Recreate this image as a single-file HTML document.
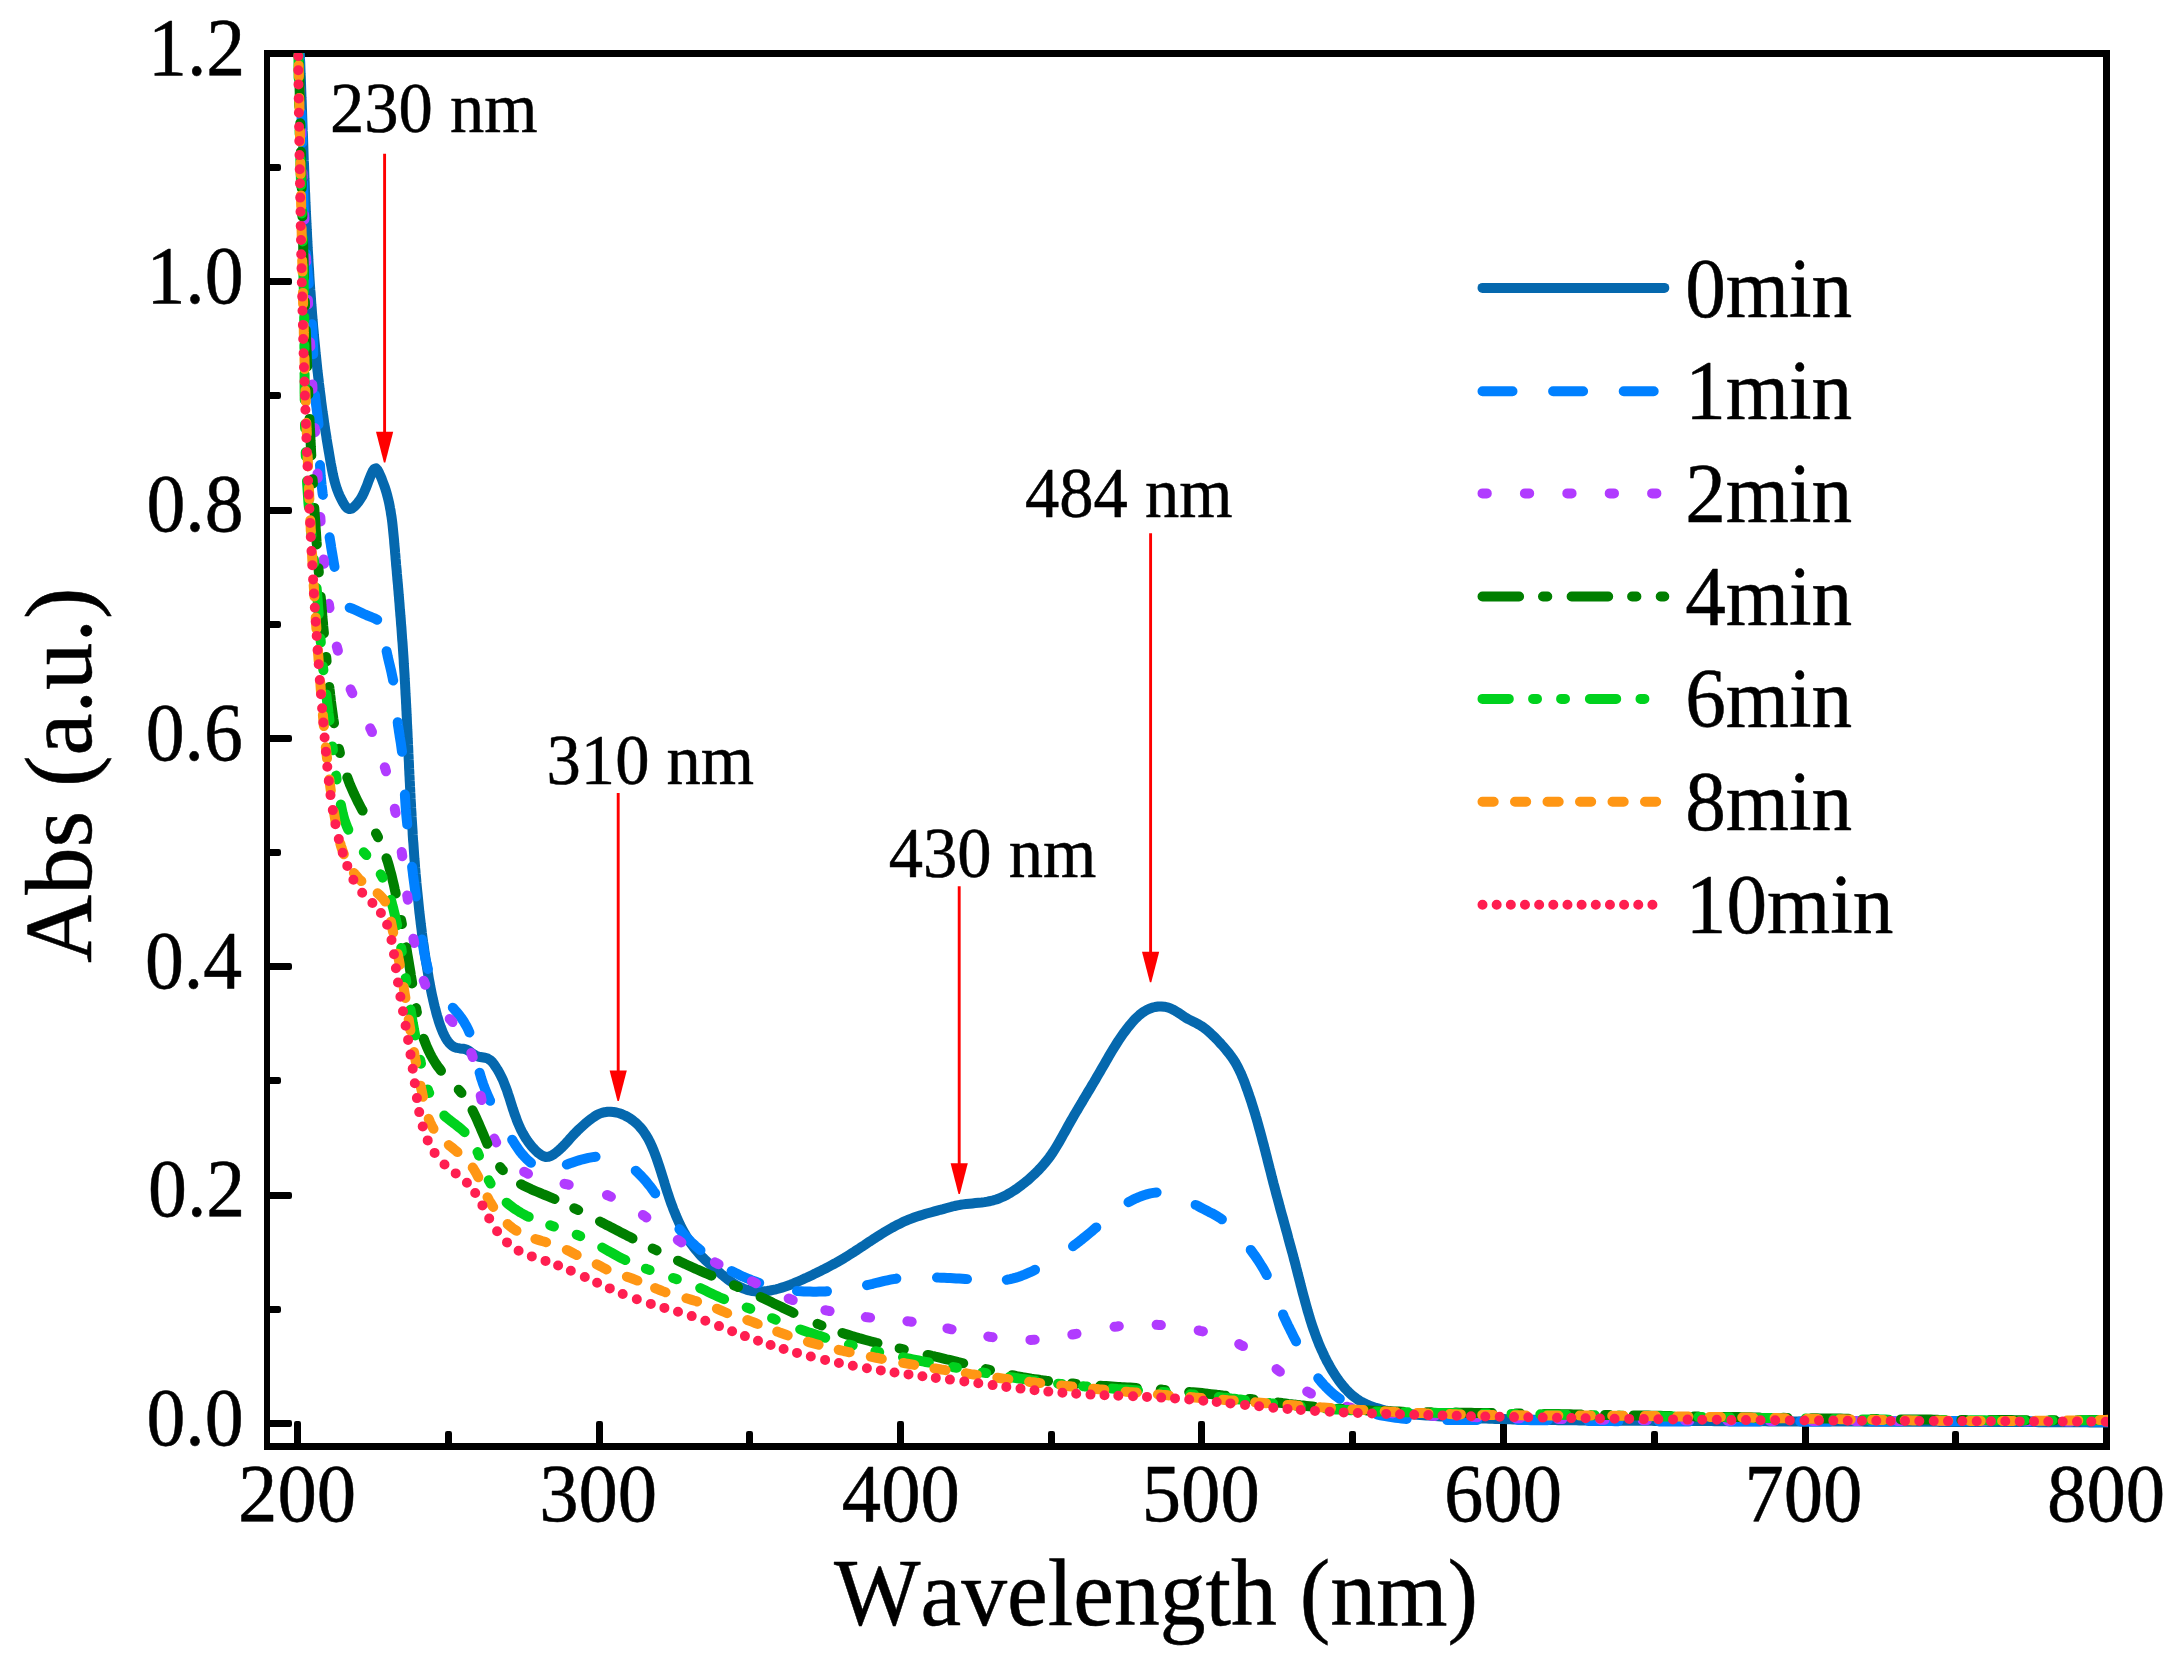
<!DOCTYPE html>
<html lang="en"><head><meta charset="utf-8"><title>UV-Vis absorbance spectra</title>
<style>html,body{margin:0;padding:0;background:#fff;width:2183px;height:1668px;overflow:hidden}svg{display:block}text{font-family:"Liberation Serif",serif;font-kerning:none;fill:#000;stroke:#000;stroke-width:0.5px;stroke-linejoin:round}</style></head><body>
<svg width="2183" height="1668" viewBox="0 0 2183 1668" shape-rendering="geometricPrecision">
<rect width="2183" height="1668" fill="#fff"/>
<defs><clipPath id="plot"><rect x="267.0" y="53.0" width="1841.0" height="1393.5"/></clipPath></defs>
<g fill="#000" stroke="none">
<rect x="264" y="50" width="6" height="1400"/>
<rect x="2103" y="50" width="7" height="1400"/>
<rect x="264" y="50" width="1846" height="7"/>
<rect x="264" y="1443" width="1846" height="7"/>
<rect x="294" y="1421" width="7" height="26" rx="2.2"/>
<rect x="445" y="1431" width="7" height="16" rx="2.2"/>
<rect x="596" y="1421" width="7" height="26" rx="2.2"/>
<rect x="746" y="1431" width="7" height="16" rx="2.2"/>
<rect x="897" y="1421" width="7" height="26" rx="2.2"/>
<rect x="1048" y="1431" width="7" height="16" rx="2.2"/>
<rect x="1198" y="1421" width="7" height="26" rx="2.2"/>
<rect x="1349" y="1431" width="7" height="16" rx="2.2"/>
<rect x="1500" y="1421" width="7" height="26" rx="2.2"/>
<rect x="1651" y="1431" width="7" height="16" rx="2.2"/>
<rect x="1802" y="1421" width="7" height="26" rx="2.2"/>
<rect x="1952" y="1431" width="7" height="16" rx="2.2"/>
<rect x="266" y="1420" width="26" height="7" rx="2.2"/>
<rect x="266" y="1306" width="15" height="7" rx="2.2"/>
<rect x="266" y="1192" width="26" height="7" rx="2.2"/>
<rect x="266" y="1077" width="15" height="7" rx="2.2"/>
<rect x="266" y="963" width="26" height="7" rx="2.2"/>
<rect x="266" y="849" width="15" height="7" rx="2.2"/>
<rect x="266" y="735" width="26" height="7" rx="2.2"/>
<rect x="266" y="621" width="15" height="7" rx="2.2"/>
<rect x="266" y="507" width="26" height="7" rx="2.2"/>
<rect x="266" y="392" width="15" height="7" rx="2.2"/>
<rect x="266" y="278" width="26" height="7" rx="2.2"/>
<rect x="266" y="164" width="15" height="7" rx="2.2"/>
</g>
<g clip-path="url(#plot)" fill="none" stroke-linecap="round" stroke-linejoin="round" stroke-width="10">
<path id="c0min" d="M298.3,20.1 298.4,23.0 298.6,26.0 298.7,29.0 298.9,32.0 299.0,35.0 299.1,38.0 299.3,41.0 299.4,44.0 299.5,47.0 299.7,50.0 299.8,53.0 299.9,56.0 300.0,59.0 300.2,62.0 300.3,65.0 300.4,68.0 300.5,71.0 300.6,73.9 300.8,76.9 300.9,79.9 301.0,82.9 301.1,85.9 301.2,88.9 301.3,91.9 301.4,94.9 301.5,97.9 301.7,100.9 301.8,103.9 301.9,107.0 302.0,110.0 302.1,113.0 302.2,116.0 302.3,119.0 302.4,122.0 302.5,125.0 302.6,128.0 302.7,131.0 302.9,134.0 303.0,137.0 303.1,140.0 303.2,143.0 303.3,146.0 303.4,149.0 303.5,152.0 303.6,155.0 303.7,158.0 303.8,161.0 304.0,164.0 304.1,167.0 304.2,170.0 304.3,173.0 304.4,176.0 304.5,179.1 304.7,182.1 304.8,185.1 304.9,188.1 305.0,191.1 305.2,194.1 305.3,197.1 305.4,200.1 305.5,203.1 305.7,206.1 305.8,209.1 305.9,212.1 306.1,215.1 306.2,218.1 306.4,221.1 306.5,224.1 306.7,227.1 306.8,230.1 307.0,233.1 307.1,236.1 307.3,239.1 307.4,242.1 307.6,245.1 307.7,248.2 307.9,251.2 308.1,254.2 308.3,257.2 308.4,260.2 308.6,263.2 308.8,266.2 309.0,269.2 309.2,272.2 309.3,275.2 309.5,278.2 309.7,281.2 309.9,284.2 310.1,287.2 310.3,290.2 310.6,293.1 310.8,296.1 311.0,299.1 311.2,302.1 311.4,305.1 311.7,308.1 311.9,311.1 312.1,314.1 312.4,317.1 312.6,320.1 312.9,323.1 313.1,326.1 313.4,329.1 313.7,332.1 313.9,335.1 314.2,338.0 314.5,341.0 314.8,344.0 315.1,347.0 315.4,350.0 315.6,353.0 316.0,356.0 316.3,359.0 316.6,361.9 316.9,364.9 317.2,367.9 317.5,370.9 317.9,373.9 318.2,376.9 318.6,379.8 318.9,382.8 319.3,385.8 319.6,388.8 320.0,391.7 320.4,394.7 320.8,397.7 321.1,400.7 321.5,403.6 321.9,406.6 322.3,409.6 322.7,412.6 323.2,415.5 323.6,418.5 324.0,421.5 324.4,424.4 324.9,427.4 325.3,430.4 325.8,433.3 326.3,436.3 326.7,439.2 327.2,442.2 327.7,445.2 328.2,448.1 328.7,451.1 329.2,454.0 329.7,457.0 330.2,460.0 330.7,462.9 331.3,465.9 331.8,468.8 332.4,471.8 333.0,474.7 333.7,477.6 334.4,480.6 335.2,483.5 336.1,486.4 337.0,489.2 338.1,492.1 339.3,495.0 340.6,497.8 342.0,500.6 343.6,503.4 345.3,506.1 347.2,508.2 349.4,509.1 351.7,508.6 354.2,506.8 356.6,504.3 358.7,501.6 360.5,499.0 362.1,496.4 363.4,493.8 364.6,491.2 365.7,488.5 366.8,485.9 367.8,483.1 368.8,480.3 370.0,477.3 371.3,474.1 372.8,471.0 374.4,468.8 376.0,468.4 377.6,470.0 379.1,472.9 380.5,476.1 381.8,479.1 382.9,482.1 384.0,485.0 385.0,487.8 385.9,490.6 386.7,493.4 387.5,496.3 388.2,499.2 388.9,502.1 389.5,505.0 390.0,507.9 390.6,510.8 391.0,513.8 391.5,516.7 391.9,519.7 392.3,522.7 392.6,525.6 392.9,528.6 393.2,531.6 393.5,534.6 393.8,537.6 394.1,540.6 394.3,543.6 394.6,546.7 394.9,549.7 395.1,552.7 395.4,555.7 395.6,558.7 395.9,561.7 396.1,564.7 396.4,567.7 396.7,570.7 396.9,573.7 397.2,576.7 397.4,579.6 397.7,582.6 398.0,585.6 398.2,588.6 398.5,591.6 398.7,594.6 399.0,597.6 399.2,600.6 399.5,603.6 399.7,606.6 399.9,609.6 400.2,612.6 400.4,615.6 400.7,618.6 400.9,621.5 401.1,624.5 401.4,627.5 401.6,630.5 401.8,633.5 402.0,636.5 402.2,639.5 402.5,642.5 402.7,645.5 402.9,648.5 403.1,651.5 403.3,654.5 403.5,657.5 403.7,660.5 403.8,663.4 404.0,666.4 404.2,669.4 404.4,672.4 404.6,675.4 404.7,678.4 404.9,681.4 405.1,684.4 405.2,687.4 405.4,690.4 405.5,693.4 405.7,696.4 405.9,699.4 406.0,702.4 406.2,705.4 406.3,708.4 406.5,711.4 406.6,714.4 406.8,717.4 406.9,720.4 407.0,723.4 407.2,726.4 407.3,729.4 407.5,732.4 407.6,735.4 407.7,738.4 407.9,741.5 408.0,744.5 408.2,747.5 408.3,750.5 408.4,753.5 408.6,756.5 408.7,759.5 408.9,762.5 409.0,765.5 409.1,768.5 409.3,771.5 409.4,774.5 409.6,777.5 409.7,780.5 409.9,783.5 410.0,786.5 410.2,789.5 410.3,792.5 410.5,795.5 410.6,798.5 410.8,801.5 411.0,804.5 411.1,807.5 411.3,810.5 411.5,813.5 411.6,816.5 411.8,819.5 412.0,822.5 412.2,825.5 412.4,828.5 412.6,831.5 412.7,834.5 412.9,837.5 413.1,840.5 413.4,843.5 413.6,846.5 413.8,849.5 414.0,852.5 414.2,855.5 414.4,858.5 414.7,861.4 414.9,864.4 415.1,867.4 415.4,870.4 415.6,873.4 415.9,876.4 416.2,879.4 416.4,882.4 416.7,885.4 417.0,888.4 417.3,891.4 417.6,894.3 417.9,897.3 418.2,900.3 418.5,903.3 418.8,906.3 419.1,909.3 419.4,912.3 419.8,915.2 420.1,918.2 420.5,921.2 420.8,924.2 421.2,927.2 421.6,930.1 421.9,933.1 422.3,936.1 422.7,939.1 423.1,942.0 423.6,945.0 424.0,948.0 424.4,951.0 424.8,953.9 425.3,956.9 425.7,959.9 426.2,962.8 426.7,965.8 427.2,968.8 427.7,971.8 428.2,974.7 428.7,977.7 429.2,980.6 429.8,983.6 430.3,986.5 430.9,989.5 431.5,992.4 432.1,995.4 432.8,998.3 433.4,1001.2 434.1,1004.1 434.8,1007.0 435.6,1009.9 436.3,1012.8 437.1,1015.7 438.0,1018.6 438.8,1021.4 439.8,1024.3 440.8,1027.1 441.9,1029.9 443.1,1032.8 444.4,1035.5 445.9,1038.3 447.6,1041.0 449.5,1043.4 451.7,1045.5 454.1,1047.0 456.9,1047.9 459.9,1048.4 462.9,1048.7 465.9,1049.4 468.5,1050.6 470.9,1052.3 473.3,1054.2 475.9,1055.7 478.8,1056.7 481.9,1057.2 485.0,1057.7 487.8,1058.6 490.3,1060.2 492.4,1062.2 494.2,1064.6 495.9,1067.1 497.5,1069.6 499.0,1072.2 500.4,1074.8 501.7,1077.5 503.0,1080.2 504.1,1083.0 505.2,1085.8 506.3,1088.6 507.3,1091.4 508.2,1094.3 509.2,1097.2 510.1,1100.0 511.0,1102.9 511.9,1105.8 512.8,1108.7 513.8,1111.5 514.7,1114.4 515.8,1117.2 516.8,1120.1 517.9,1122.8 519.1,1125.6 520.3,1128.3 521.6,1131.0 523.0,1133.6 524.5,1136.2 526.1,1138.8 527.8,1141.3 529.6,1143.7 531.5,1146.1 533.5,1148.3 535.7,1150.6 538.0,1152.7 540.5,1154.6 543.1,1156.1 545.7,1156.9 548.5,1156.7 551.3,1155.7 554.0,1154.1 556.6,1152.1 559.1,1150.0 561.4,1147.9 563.5,1145.8 565.6,1143.6 567.6,1141.4 569.5,1139.2 571.5,1137.0 573.4,1134.9 575.5,1132.8 577.5,1130.7 579.7,1128.6 581.9,1126.6 584.1,1124.6 586.4,1122.6 588.8,1120.7 591.3,1118.8 593.8,1117.0 596.4,1115.3 599.1,1113.9 601.9,1112.9 604.7,1112.2 607.6,1111.8 610.5,1111.7 613.4,1112.0 616.4,1112.5 619.3,1113.3 622.1,1114.3 624.9,1115.5 627.7,1117.0 630.3,1118.6 632.8,1120.4 635.2,1122.3 637.5,1124.4 639.6,1126.6 641.6,1128.9 643.4,1131.2 645.1,1133.7 646.7,1136.2 648.2,1138.8 649.6,1141.5 650.9,1144.2 652.1,1146.9 653.3,1149.7 654.4,1152.5 655.5,1155.3 656.5,1158.2 657.5,1161.0 658.4,1163.8 659.4,1166.7 660.3,1169.5 661.2,1172.3 662.1,1175.2 663.0,1178.0 663.9,1180.9 664.7,1183.7 665.6,1186.6 666.5,1189.5 667.4,1192.3 668.4,1195.2 669.3,1198.0 670.3,1200.9 671.3,1203.7 672.4,1206.6 673.4,1209.4 674.6,1212.2 675.7,1215.0 676.9,1217.8 678.1,1220.5 679.4,1223.3 680.7,1226.0 682.1,1228.7 683.5,1231.3 684.9,1233.9 686.5,1236.5 688.0,1239.1 689.7,1241.6 691.4,1244.0 693.1,1246.4 695.0,1248.8 696.9,1251.1 698.8,1253.4 700.8,1255.6 702.9,1257.7 705.1,1259.8 707.3,1261.9 709.5,1263.9 711.8,1265.9 714.1,1267.9 716.4,1269.9 718.6,1271.8 720.9,1273.8 723.2,1275.7 725.5,1277.6 727.9,1279.4 730.3,1281.2 732.8,1282.9 735.4,1284.5 738.0,1286.0 740.8,1287.4 743.6,1288.6 746.4,1289.6 749.3,1290.4 752.3,1291.0 755.2,1291.4 758.2,1291.6 761.2,1291.5 764.2,1291.3 767.2,1291.0 770.2,1290.5 773.2,1289.9 776.1,1289.3 779.0,1288.5 781.9,1287.6 784.7,1286.7 787.6,1285.7 790.4,1284.7 793.2,1283.6 796.0,1282.4 798.7,1281.2 801.5,1280.0 804.2,1278.7 807.0,1277.5 809.7,1276.2 812.4,1274.9 815.1,1273.6 817.8,1272.2 820.5,1270.9 823.2,1269.6 825.9,1268.2 828.5,1266.8 831.2,1265.4 833.8,1264.0 836.4,1262.6 839.0,1261.1 841.6,1259.6 844.2,1258.1 846.8,1256.5 849.3,1254.9 851.8,1253.3 854.4,1251.7 856.9,1250.0 859.4,1248.4 861.9,1246.7 864.4,1245.1 866.9,1243.4 869.4,1241.7 871.9,1240.1 874.4,1238.4 877.0,1236.8 879.5,1235.2 882.0,1233.6 884.6,1232.0 887.2,1230.5 889.8,1229.0 892.4,1227.5 895.0,1226.1 897.6,1224.7 900.3,1223.4 903.0,1222.1 905.8,1220.8 908.5,1219.7 911.3,1218.6 914.1,1217.5 917.0,1216.5 919.9,1215.6 922.8,1214.7 925.7,1213.8 928.6,1213.0 931.5,1212.2 934.4,1211.4 937.3,1210.6 940.2,1209.8 943.1,1209.1 946.0,1208.3 948.8,1207.5 951.7,1206.7 954.6,1206.0 957.4,1205.4 960.4,1204.8 963.3,1204.4 966.3,1204.0 969.4,1203.7 972.4,1203.4 975.4,1203.1 978.5,1202.8 981.5,1202.5 984.5,1202.1 987.5,1201.6 990.4,1201.0 993.3,1200.3 996.2,1199.5 999.0,1198.5 1001.7,1197.3 1004.4,1196.1 1007.1,1194.7 1009.7,1193.2 1012.2,1191.6 1014.8,1190.0 1017.3,1188.3 1019.7,1186.5 1022.1,1184.7 1024.5,1182.8 1026.9,1180.9 1029.2,1178.9 1031.4,1176.9 1033.6,1174.9 1035.8,1172.8 1037.9,1170.7 1040.0,1168.5 1042.0,1166.3 1044.0,1164.0 1045.9,1161.7 1047.8,1159.4 1049.6,1157.0 1051.3,1154.6 1053.0,1152.1 1054.6,1149.6 1056.2,1147.0 1057.7,1144.5 1059.2,1141.9 1060.7,1139.3 1062.2,1136.6 1063.6,1134.0 1065.1,1131.4 1066.6,1128.7 1068.0,1126.1 1069.5,1123.5 1071.0,1120.8 1072.5,1118.2 1074.0,1115.6 1075.5,1113.0 1077.1,1110.4 1078.6,1107.8 1080.1,1105.3 1081.7,1102.7 1083.2,1100.1 1084.7,1097.5 1086.3,1094.9 1087.8,1092.3 1089.4,1089.8 1090.9,1087.2 1092.4,1084.6 1094.0,1082.0 1095.5,1079.4 1097.0,1076.8 1098.5,1074.3 1100.0,1071.7 1101.5,1069.1 1103.0,1066.5 1104.5,1063.9 1106.0,1061.3 1107.5,1058.7 1109.0,1056.1 1110.5,1053.5 1112.0,1051.0 1113.6,1048.4 1115.2,1045.8 1116.8,1043.3 1118.4,1040.8 1120.1,1038.3 1121.8,1035.8 1123.5,1033.3 1125.3,1030.9 1127.1,1028.5 1129.0,1026.1 1131.0,1023.8 1133.0,1021.4 1135.0,1019.2 1137.2,1017.1 1139.4,1015.0 1141.7,1013.2 1144.2,1011.5 1146.7,1010.0 1149.4,1008.7 1152.2,1007.7 1155.1,1007.0 1158.2,1006.5 1161.3,1006.4 1164.3,1006.7 1167.3,1007.3 1170.1,1008.2 1172.8,1009.5 1175.4,1010.9 1178.0,1012.5 1180.5,1014.2 1183.0,1015.9 1185.6,1017.6 1188.2,1019.1 1190.8,1020.4 1193.5,1021.8 1196.2,1023.1 1198.8,1024.5 1201.3,1026.0 1203.8,1027.7 1206.2,1029.5 1208.5,1031.5 1210.7,1033.5 1212.9,1035.6 1215.1,1037.7 1217.2,1039.9 1219.3,1042.1 1221.3,1044.4 1223.4,1046.6 1225.3,1048.9 1227.2,1051.2 1229.1,1053.5 1230.9,1055.9 1232.6,1058.3 1234.2,1060.8 1235.8,1063.3 1237.2,1065.9 1238.6,1068.6 1239.9,1071.3 1241.2,1074.0 1242.3,1076.8 1243.5,1079.6 1244.6,1082.4 1245.6,1085.2 1246.6,1088.1 1247.7,1090.9 1248.6,1093.8 1249.6,1096.6 1250.6,1099.5 1251.5,1102.3 1252.4,1105.2 1253.3,1108.1 1254.2,1111.0 1255.1,1113.8 1255.9,1116.7 1256.8,1119.6 1257.6,1122.5 1258.4,1125.4 1259.2,1128.3 1260.0,1131.2 1260.8,1134.1 1261.6,1137.0 1262.3,1139.9 1263.1,1142.8 1263.9,1145.7 1264.6,1148.6 1265.4,1151.5 1266.1,1154.4 1266.9,1157.3 1267.6,1160.3 1268.3,1163.2 1269.1,1166.1 1269.8,1169.0 1270.6,1171.9 1271.3,1174.8 1272.0,1177.7 1272.8,1180.6 1273.5,1183.5 1274.3,1186.4 1275.1,1189.3 1275.8,1192.2 1276.6,1195.1 1277.4,1198.0 1278.2,1200.9 1279.0,1203.8 1279.7,1206.7 1280.5,1209.6 1281.3,1212.5 1282.1,1215.3 1282.9,1218.2 1283.7,1221.1 1284.5,1224.0 1285.3,1226.9 1286.1,1229.8 1286.9,1232.7 1287.7,1235.6 1288.4,1238.5 1289.2,1241.4 1290.0,1244.3 1290.8,1247.2 1291.6,1250.1 1292.4,1253.0 1293.2,1255.9 1293.9,1258.8 1294.7,1261.7 1295.5,1264.6 1296.2,1267.5 1297.0,1270.5 1297.7,1273.4 1298.5,1276.3 1299.2,1279.2 1300.0,1282.1 1300.7,1285.1 1301.5,1288.0 1302.2,1290.9 1303.0,1293.8 1303.8,1296.8 1304.6,1299.7 1305.4,1302.6 1306.2,1305.5 1307.0,1308.4 1307.8,1311.3 1308.7,1314.2 1309.5,1317.0 1310.4,1319.9 1311.3,1322.8 1312.2,1325.6 1313.2,1328.5 1314.2,1331.3 1315.2,1334.1 1316.2,1336.9 1317.3,1339.7 1318.4,1342.5 1319.5,1345.3 1320.7,1348.0 1321.9,1350.7 1323.2,1353.4 1324.4,1356.1 1325.8,1358.8 1327.1,1361.5 1328.6,1364.1 1330.0,1366.7 1331.5,1369.3 1333.1,1371.9 1334.7,1374.5 1336.4,1377.0 1338.1,1379.5 1339.9,1381.9 1341.7,1384.3 1343.6,1386.6 1345.6,1388.9 1347.7,1391.1 1349.8,1393.2 1352.0,1395.2 1354.3,1397.0 1356.7,1398.8 1359.2,1400.5 1361.8,1402.0 1364.5,1403.4 1367.3,1404.7 1370.1,1405.8 1373.0,1406.9 1375.8,1407.9 1378.8,1408.7 1381.7,1409.5 1384.6,1410.3 1387.5,1410.9 1390.5,1411.5 1393.4,1412.0 1396.4,1412.5 1399.4,1412.9 1402.3,1413.3 1405.3,1413.6 1408.3,1413.9 1411.3,1414.2 1414.3,1414.5 1417.3,1414.7 1420.3,1415.0 1423.3,1415.2 1426.3,1415.4 1429.2,1415.6 1432.2,1415.8 1435.2,1416.0 1438.2,1416.2 1441.2,1416.4 1444.2,1416.6 1447.2,1416.8 1450.2,1416.9 1453.2,1417.1 1456.2,1417.3 1459.2,1417.4 1462.2,1417.6 1465.2,1417.7 1468.2,1417.9 1471.2,1418.0 1474.2,1418.1 1477.2,1418.2 1480.2,1418.4 1483.2,1418.5 1486.2,1418.6 1489.2,1418.7 1492.2,1418.8 1495.2,1418.9 1498.2,1419.0 1501.2,1419.1 1504.2,1419.1 1507.2,1419.2 1510.2,1419.3 1513.2,1419.4 1516.2,1419.5 1519.2,1419.5 1522.2,1419.6 1525.2,1419.6 1528.2,1419.7 1531.2,1419.8 1534.2,1419.8 1537.2,1419.9 1540.2,1419.9 1543.3,1420.0 1546.3,1420.0 1549.3,1420.0 1552.3,1420.1 1555.3,1420.1 1558.3,1420.2 1561.3,1420.2 1564.3,1420.2 1567.3,1420.3 1570.3,1420.3 1573.3,1420.3 1576.3,1420.3 1579.3,1420.4 1582.3,1420.4 1585.3,1420.4 1588.3,1420.4 1591.3,1420.5 1594.3,1420.5 1597.3,1420.5 1600.3,1420.5 1603.4,1420.5 1606.4,1420.6 1609.4,1420.6 1612.4,1420.6 1615.4,1420.6 1618.4,1420.6 1621.4,1420.7 1624.4,1420.7 1627.4,1420.7 1630.4,1420.7 1633.4,1420.7 1636.4,1420.8 1639.4,1420.8 1642.4,1420.8 1645.4,1420.8 1648.4,1420.8 1651.4,1420.8 1654.4,1420.9 1657.4,1420.9 1660.4,1420.9 1663.4,1420.9 1666.5,1420.9 1669.5,1420.9 1672.5,1421.0 1675.5,1421.0 1678.5,1421.0 1681.5,1421.0 1684.5,1421.0 1687.5,1421.0 1690.5,1421.0 1693.5,1421.1 1696.5,1421.1 1699.5,1421.1 1702.5,1421.1 1705.5,1421.1 1708.5,1421.1 1711.5,1421.1 1714.5,1421.2 1717.5,1421.2 1720.5,1421.2 1723.5,1421.2 1726.5,1421.2 1729.5,1421.2 1732.5,1421.2 1735.5,1421.2 1738.5,1421.2 1741.5,1421.3 1744.6,1421.3 1747.6,1421.3 1750.6,1421.3 1753.6,1421.3 1756.6,1421.3 1759.6,1421.3 1762.6,1421.3 1765.6,1421.3 1768.6,1421.4 1771.6,1421.4 1774.6,1421.4 1777.6,1421.4 1780.6,1421.4 1783.6,1421.4 1786.6,1421.4 1789.6,1421.4 1792.6,1421.4 1795.6,1421.5 1798.6,1421.5 1801.6,1421.5 1804.6,1421.5 1807.6,1421.5 1810.6,1421.5 1813.6,1421.5 1816.6,1421.5 1819.6,1421.5 1822.6,1421.5 1825.6,1421.5 1828.6,1421.6 1831.6,1421.6 1834.7,1421.6 1837.7,1421.6 1840.7,1421.6 1843.7,1421.6 1846.7,1421.6 1849.7,1421.6 1852.7,1421.6 1855.7,1421.6 1858.7,1421.6 1861.7,1421.6 1864.7,1421.7 1867.7,1421.7 1870.7,1421.7 1873.7,1421.7 1876.7,1421.7 1879.7,1421.7 1882.7,1421.7 1885.7,1421.7 1888.7,1421.7 1891.7,1421.7 1894.7,1421.7 1897.7,1421.7 1900.7,1421.8 1903.7,1421.8 1906.7,1421.8 1909.7,1421.8 1912.7,1421.8 1915.7,1421.8 1918.7,1421.8 1921.7,1421.8 1924.7,1421.8 1927.8,1421.8 1930.8,1421.8 1933.8,1421.8 1936.8,1421.8 1939.8,1421.9 1942.8,1421.9 1945.8,1421.9 1948.8,1421.9 1951.8,1421.9 1954.8,1421.9 1957.8,1421.9 1960.8,1421.9 1963.8,1421.9 1966.8,1421.9 1969.8,1421.9 1972.8,1421.9 1975.8,1422.0 1978.8,1422.0 1981.8,1422.0 1984.8,1422.0 1987.8,1422.0 1990.8,1422.0 1993.8,1422.0 1996.8,1422.0 1999.8,1422.0 2002.8,1422.0 2005.8,1422.0 2008.8,1422.1 2011.9,1422.1 2014.9,1422.1 2017.9,1422.1 2020.9,1422.1 2023.9,1422.1 2026.9,1422.1 2029.9,1422.1 2032.9,1422.1 2035.9,1422.1 2038.9,1422.2 2041.9,1422.2 2044.9,1422.2 2047.9,1422.2 2050.9,1422.2 2053.9,1422.2 2056.9,1422.2 2059.9,1422.2 2062.9,1422.2 2065.9,1422.3 2068.9,1422.3 2071.9,1422.3 2074.9,1422.3 2077.9,1422.3 2080.9,1422.3 2083.9,1422.3 2087.0,1422.3 2090.0,1422.4 2093.0,1422.4 2096.0,1422.4 2099.0,1422.4 2102.0,1422.4 2105.0,1422.4 2108.0,1422.4 2111.0,1422.4 2114.0,1422.5 2117.0,1422.5 2120.0,1422.5" stroke="#0568ae"/>
<path id="c1min" d="M299,42.2 299,44 299.1,47 299.2,50.1 299.3,53.1 299.4,56.1 299.5,59.1 299.6,62.1 299.7,65.1 299.8,68.1 299.9,71.1 299.9,72.2M301.4,112.8 301.4,113.1 301.5,116.1 301.6,119.1 301.7,122.1 301.8,125.1 301.9,128.1 302,131.2 302.1,134.2 302.2,137.2 302.3,140.2 302.3,142.7M303.2,183.3 303.2,185.3 303.3,188.3 303.3,191.3 303.4,194.3 303.5,197.3 303.5,200.3 303.6,203.3 303.7,206.3 303.8,209.3 303.9,212.3 303.9,213.3M306.1,253.9 306.1,254.3 306.3,257.3 306.6,260.3 306.8,263.3 307.1,266.3 307.4,269.3 307.6,272.3 307.9,275.3 308.2,278.3 308.5,281.3 308.7,283.7M312,324.2 312.2,326.2 312.3,329.2 312.5,332.2 312.7,335.2 312.8,338.2 312.9,341.2 313,344.2 313.1,347.2 313.1,350.2 313.2,353.3 313.2,354.2M314.9,394.7 315,395.3 315.3,398.3 315.6,401.3 316,404.2 316.4,407.2 316.8,410.2 317.2,413.2 317.5,416.2 317.9,419.2 318.3,422.1 318.5,424.5M320,465.1 320.1,467.1 320.3,470.1 320.5,473.1 320.7,476.1 321,479.1 321.3,482.1 321.6,485.1 322,488.1 322.3,491 322.7,494 322.9,494.9M329.6,537.3 329.8,538.6 330.3,541.6 330.8,544.5 331.2,547.5 331.7,550.5 332.2,553.4 332.7,556.4 333.2,559.3 333.7,562.3 334.2,565.2 334.5,566.9M349.7,607.7 350.3,607.9 353.2,609 356,610.3 358.6,611.5 361.3,612.8 363.9,614 366.7,615.2 369.6,616.3 372.4,617.5 375.2,618.7 377.2,619.7M386.6,651.2 387.2,654 387.8,656.9 388.5,659.9 389.2,662.8 389.9,665.7 390.6,668.6 391.3,671.5 391.9,674.4 392.5,677.3 393.1,680.3 393.2,680.5M397.7,722.2 397.7,722.2 398,725.1 398.5,728.1 398.9,731.1 399.4,734.1 399.8,737 400.3,740 400.8,743 401.2,745.9 401.6,748.9 402,751.8M404.9,794.6 405,796.9 405.2,799.9 405.4,802.9 405.6,805.9 405.8,808.9 406.1,811.9 406.3,814.9 406.6,817.9 406.9,820.9 407.2,823.8 407.2,824.5M412.1,866.8 412.3,868.6 412.7,871.6 413,874.6 413.4,877.6 413.8,880.6 414.2,883.5 414.6,886.5 415,889.5 415.4,892.5 415.8,895.5 415.9,896.5M422,939.4 422.1,940.1 422.6,943 423.1,946 423.6,949 424.1,951.9 424.7,954.9 425.2,957.8 425.9,960.7 426.6,963.7 427.3,966.6 427.9,968.9M452.8,1007.7 454.2,1009.2 456.2,1011.5 458.1,1013.8 460,1016.2 461.8,1018.6 463.5,1021.1 465,1023.7 466.5,1026.3 467.9,1029 469.1,1031.7 469.4,1032.5M479.6,1072.7 480.4,1075.4 481.2,1078.3 482.2,1081.1 483.1,1083.9 484.2,1086.8 485.2,1089.6 486.4,1092.3 487.6,1095.1 488.8,1097.8 490,1100.6 490.1,1100.8M512.2,1139.7 512.3,1139.9 513.9,1142.5 515.5,1145 517.2,1147.5 518.9,1150 520.7,1152.4 522.6,1154.7 524.6,1156.9 526.7,1159.1 528.9,1161.1 531,1162.8M566.8,1164.6 568.2,1164 571.1,1162.9 574,1161.9 576.8,1161 579.7,1160.1 582.6,1159.3 585.5,1158.6 588.4,1157.9 591.4,1157.4 594.3,1156.9 595.6,1156.8M635.7,1170.7 637.8,1172.7 640,1174.8 642.1,1177 644.1,1179.2 646.1,1181.4 648,1183.8 649.9,1186.1 651.7,1188.5 653.4,1190.9 655.2,1193.3 655.2,1193.4M679.4,1229.1 680.5,1230.5 682.5,1232.8 684.5,1235.1 686.5,1237.3 688.6,1239.4 690.8,1241.6 693,1243.6 695.2,1245.7 697.5,1247.7 699.8,1249.6 700.5,1250.3M731.6,1271.1 732.3,1271.4 735,1272.8 737.7,1274.1 740.4,1275.4 743.1,1276.7 745.9,1277.8 748.7,1279 751.5,1280.1 754.3,1281.1 757.1,1282.2 759.2,1282.9M797,1290.9 798,1291 801,1291.2 804,1291.4 807.1,1291.6 810.1,1291.6 813.1,1291.7 816.1,1291.7 819.1,1291.6 822.1,1291.5 825.2,1291.4 827,1291.3M867,1285.2 869.9,1284.5 872.8,1283.8 875.7,1283 878.6,1282.3 881.5,1281.6 884.4,1280.9 887.3,1280.3 890.3,1279.7 893.2,1279.1 896.1,1278.7 896.3,1278.6M937,1277.5 938.2,1277.6 941.2,1277.7 944.2,1277.8 947.2,1277.9 950.2,1278 953.2,1278.2 956.2,1278.4 959.2,1278.5 962.2,1278.7 965.2,1278.9 967,1279.1M1006.8,1279.8 1007.3,1279.7 1010.2,1279.1 1013.1,1278.4 1016,1277.6 1018.9,1276.7 1021.7,1275.7 1024.5,1274.6 1027.3,1273.4 1030.1,1272.2 1032.8,1270.9 1035,1269.8M1073,1246.2 1073.8,1245.6 1076.2,1243.8 1078.6,1241.9 1081,1240.1 1083.3,1238.2 1085.6,1236.3 1088,1234.4 1090.3,1232.5 1092.6,1230.6 1094.9,1228.6 1096.3,1227.4M1128.5,1202.2 1130.5,1201.1 1133.2,1199.6 1136,1198.3 1138.8,1197.1 1141.7,1196 1144.6,1195 1147.5,1194.1 1150.4,1193.4 1153.4,1192.9 1156.4,1192.5 1156.6,1192.4M1195.6,1204.9 1195.7,1204.9 1198.4,1206.3 1201.1,1207.7 1203.8,1209.1 1206.5,1210.5 1209.1,1211.9 1211.8,1213.2 1214.4,1214.7 1217,1216.2 1219.5,1217.7 1221.9,1219.3M1250.7,1249.9 1250.8,1250 1252.6,1252.5 1254.4,1254.9 1256.1,1257.4 1257.8,1259.9 1259.4,1262.4 1261,1265 1262.6,1267.5 1264.1,1270.1 1265.5,1272.7 1266.8,1275.1M1283,1314.4 1284.1,1317.1 1285.4,1319.8 1286.6,1322.5 1287.9,1325.2 1289.3,1327.9 1290.6,1330.6 1292,1333.3 1293.3,1336 1294.7,1338.7 1296.1,1341.3 1296.1,1341.4M1318.2,1378.2 1319.4,1379.8 1321.4,1382.1 1323.4,1384.4 1325.5,1386.6 1327.7,1388.8 1329.9,1390.9 1332.2,1392.9 1334.5,1394.9 1336.9,1396.7 1339.3,1398.5 1339.8,1398.8M1377,1414.5 1377.8,1414.6 1380.7,1415.3 1383.7,1415.9 1386.7,1416.4 1389.6,1416.9 1392.6,1417.3 1395.6,1417.7 1398.6,1418.1 1401.6,1418.4 1404.6,1418.7 1406.7,1418.9M1447.2,1420.1 1449.7,1420.1 1452.7,1420.1 1455.7,1420 1458.7,1420 1461.7,1420 1464.7,1420 1467.8,1419.9 1470.8,1419.9 1473.8,1419.9 1476.8,1419.9 1477.2,1419.9M1517.8,1420 1518.9,1420 1521.9,1420.1 1524.9,1420.1 1527.9,1420.1 1530.9,1420.2 1533.9,1420.2 1536.9,1420.2 1539.9,1420.3 1542.9,1420.3 1545.9,1420.3 1547.8,1420.3M1588.4,1420.9 1591,1420.9 1594,1420.9 1597,1421 1600,1421 1603,1421 1606,1421.1 1609,1421.1 1612,1421.1 1615,1421.2 1618,1421.2 1618.4,1421.2M1659,1421.5 1660.1,1421.5 1663.1,1421.5 1666.1,1421.5 1669.1,1421.5 1672.1,1421.5 1675.1,1421.5 1678.1,1421.5 1681.1,1421.6 1684.1,1421.6 1687.1,1421.6 1689,1421.6M1729.6,1421.6 1732.2,1421.6 1735.2,1421.6 1738.2,1421.6 1741.2,1421.6 1744.3,1421.6 1747.3,1421.6 1750.3,1421.6 1753.3,1421.6 1756.3,1421.6 1759.3,1421.6 1759.6,1421.6M1800.2,1421.5 1801.4,1421.5 1804.4,1421.5 1807.4,1421.5 1810.4,1421.5 1813.4,1421.5 1816.4,1421.4 1819.4,1421.4 1822.4,1421.4 1825.4,1421.4 1828.5,1421.4 1830.2,1421.4M1870.8,1421.3 1873.6,1421.3 1876.6,1421.2 1879.6,1421.2 1882.6,1421.2 1885.6,1421.2 1888.6,1421.2 1891.6,1421.2 1894.6,1421.2 1897.6,1421.2 1900.6,1421.2 1900.8,1421.2M1941.4,1421.1 1942.7,1421.1 1945.7,1421.1 1948.7,1421.1 1951.7,1421.1 1954.8,1421.1 1957.8,1421.1 1960.8,1421.1 1963.8,1421.1 1966.8,1421.1 1969.8,1421.1 1971.4,1421.1M2012,1421.1 2014.9,1421.1 2017.9,1421.1 2020.9,1421.1 2023.9,1421.2 2026.9,1421.2 2029.9,1421.2 2032.9,1421.2 2035.9,1421.2 2038.9,1421.2 2041.9,1421.2 2042,1421.2M2082.6,1421.6 2084,1421.6 2087,1421.6 2090,1421.6 2093,1421.7 2096,1421.7 2099,1421.7 2102,1421.8 2105,1421.8 2108,1421.8 2111,1421.9 2112.6,1421.9" stroke="#0080ff"/>
<path id="c2min" d="M299.1,45.7 299.1,47 299.1,50M300,88 300.1,89.1 300.1,92.1 300.1,92.3M301.2,130.4 301.3,131.1 301.3,134.1 301.4,134.7M302.6,172.8 302.6,173.1 302.7,176.1 302.8,177.1M304.2,215.2 304.3,218.2 304.4,219.5M306,257.5 306.1,260.2 306.2,261.8M307.9,299.9 308,302.2 308.1,304.2M310,342.2 310.1,344.2 310.3,346.5M312.3,384.6 312.4,386.2 312.5,388.9M314.7,427.9 314.8,428.2 314.9,431.2 315,432.2M317.5,473.6 317.6,476.2 317.7,477.9M320.3,517.1 320.4,518.1 320.6,521.1 320.6,521.4M323.7,559.5 323.8,560 324,563 324.1,563.8M328.8,603.8 329,604.9 329.4,607.8 329.5,608M336.8,646.5 337.5,649.1 337.9,650.7M350.6,689.3 351.6,691.7 352.3,693.2M370.2,728.2 370.7,729.3 372,732 372,732.1M384.8,767.2 385.3,768.7 386,771.3M394.8,808.7 394.9,809.6 395.5,812.5 395.6,812.9M401.7,852 402,854.1 402.3,856.3M407.2,895.4 407.3,895.9 407.7,898.9 407.8,899.7M413.4,938.7 413.8,940.7 414.2,943M423.7,980.8 423.9,981.2 425,983.9 425.3,984.8M449.7,1018.9 450.8,1020.1 452.5,1022.1M471.3,1053 472.2,1055.5 472.7,1057.1M480.7,1095.8 480.9,1096.8 481.5,1099.8 481.6,1100M494.2,1138.6 495.2,1140.6 496.2,1142.4M524.2,1171.8 525,1172.2 527.6,1173.6 528,1173.8M564.5,1183.8 565.4,1184 568.5,1184.6 568.7,1184.7M607,1195 609.2,1195.9 610.9,1196.7M642.9,1215 645.4,1216.7 646.4,1217.5M677.8,1240 679.8,1241.3 681.4,1242.4M714.9,1262.3 715.8,1262.8 718.5,1264.2 718.6,1264.3M752,1281.3 753.2,1281.9 755.9,1283.2M788.7,1298.5 791.4,1299.6 792.7,1300.1M825.4,1310.2 825.9,1310.3 828.8,1310.9 829.6,1311.1M865.8,1317.1 867.4,1317.3 870.1,1317.6M907.4,1321.2 909,1321.4 911.7,1321.8M947.4,1328.4 947.6,1328.4 950.6,1329.1 951.6,1329.3M988.3,1336.5 989.1,1336.7 992.1,1337.1 992.6,1337.2M1030.4,1339.9 1030.7,1339.9 1033.7,1339.8 1034.7,1339.8M1072.3,1334.6 1072.4,1334.5 1075.4,1334 1076.5,1333.7M1114.5,1326.8 1117.1,1326.5 1118.8,1326.2M1156.6,1324.8 1158.7,1324.9 1160.9,1325M1198.7,1330.4 1200.2,1330.8 1202.9,1331.4M1239.2,1344.1 1240.2,1344.7 1242.9,1346.1 1243,1346.1M1276.5,1369.1 1277.4,1369.8 1279.8,1371.7 1279.9,1371.8M1307.2,1391.5 1309.2,1392.6 1310.9,1393.6M1346.6,1406.7 1348.2,1407.1 1350.8,1407.6M1388.5,1413 1390.2,1413.1 1392.8,1413.4M1430.8,1415.7 1432.3,1415.8 1435.1,1415.9M1473.2,1417.1 1474.2,1417.1 1477.2,1417.2 1477.5,1417.2M1515.6,1418.2 1516.2,1418.2 1519.2,1418.2 1519.9,1418.3M1558,1419 1558.2,1419 1561.2,1419.1 1562.3,1419.1M1600.3,1419.7 1603.2,1419.7 1604.6,1419.7M1642.7,1420.2 1645.3,1420.2 1647,1420.2M1685.1,1420.5 1687.3,1420.5 1689.4,1420.5M1727.5,1420.7 1729.4,1420.8 1731.8,1420.8M1769.9,1420.9 1771.5,1420.9 1774.2,1420.9M1812.3,1421 1813.6,1421 1816.6,1421 1816.6,1421M1854.7,1421 1855.7,1421 1858.7,1421 1859,1421M1897.1,1421 1897.8,1421 1900.8,1421 1901.4,1421M1939.5,1421.1 1939.9,1421.1 1942.9,1421.1 1943.8,1421.1M1981.9,1421.2 1982,1421.2 1985,1421.2 1986.2,1421.2M2024.3,1421.3 2027,1421.3 2028.6,1421.3M2066.7,1421.5 2069,1421.6 2071,1421.6M2109.1,1421.9 2111,1421.9 2113.4,1421.9" stroke="#b13bff"/>
<path id="c4min" d="M298.6,34.1 298.6,35 298.6,38 298.6,38.4M299.1,62.7 299.2,65 299.2,68 299.3,71 299.3,74 299.4,77 299.5,80 299.5,83 299.6,86 299.6,89 299.7,92 299.7,95 299.8,98 299.8,99.3M300.3,123.2 300.4,125.1 300.4,127.5M300.9,151.8 300.9,152.1 301,155.1 301.1,158.1 301.1,161.1 301.2,164.1 301.2,167.1 301.3,170.1 301.4,173.1 301.5,176.1 301.5,179.1 301.6,182.1 301.7,185.1 301.7,188.1 301.7,188.3M302.3,212.2 302.4,215.2 302.4,216.5M303,240.8 303.1,242.2 303.2,245.2 303.2,248.2 303.3,251.2 303.4,254.2 303.5,257.2 303.6,260.2 303.7,263.2 303.7,266.2 303.8,269.2 303.9,272.2 304,275.2 304.1,277.4M304.8,301.3 304.9,302.3 305,305.3 305,305.6M305.8,329.9 305.9,332.3 306,335.3 306.1,338.3 306.2,341.3 306.3,344.3 306.4,347.3 306.5,350.3 306.7,353.3 306.8,356.3 306.9,359.3 307,362.3 307.1,365.3 307.2,366.5M308.2,390.3 308.2,392.3 308.3,394.6M309.5,418.9 309.5,419.3 309.6,422.3 309.8,425.3 309.9,428.3 310.1,431.3 310.2,434.3 310.4,437.3 310.5,440.3 310.7,443.3 310.8,446.3 311,449.3 311.1,452.3 311.3,455.3 311.3,455.5M312.6,479.3 312.8,482.3 312.9,483.6M314.3,507.9 314.4,509.3 314.6,512.3 314.8,515.3 315,518.3 315.2,521.2 315.4,524.2 315.6,527.2 315.8,530.2 316,533.2 316.2,536.2 316.4,539.2 316.6,542.2 316.8,544.4M318.5,568.2 318.5,569.1 318.8,572.1 318.8,572.5M320.7,596.7 320.9,599 321.2,602 321.4,605 321.7,608 321.9,611 322.2,614 322.4,617 322.7,620 323,622.9 323.2,625.9 323.5,628.9 323.8,631.9 323.9,633.2M326.2,657 326.4,658.8 326.6,661.3M329.3,686.9 329.5,688.8 329.9,691.8 330.2,694.8 330.6,697.8 330.9,700.8 331.3,703.8 331.7,706.8 332.1,709.8 332.5,712.7 332.9,715.7 333.3,718.7 333.8,721.7 334,723.2M338.9,748.8 339.5,751.1 339.9,753M347.3,777.4 348.2,779.7 349.2,782.5 350.3,785.3 351.5,788 352.7,790.8 353.9,793.5 355.2,796.2 356.5,798.9 357.8,801.6 359.2,804.3 360.6,807 362,809.6 362.6,810.6M376,833.4 377.2,835.6 378,837.2M386.5,858.2 387.3,860.5 388.2,863.3 389,866.2 389.8,869.1 390.6,872 391.4,874.9 392.1,877.9 392.8,880.8 393.5,883.7 394.2,886.7 394.8,889.6 395.5,892.5 395.7,893.6M401.1,919.9 401.5,921.9 401.9,924.1M406.2,947.3 406.4,948.3 406.9,951.2 407.4,954.2 407.9,957.1 408.4,960.1 408.9,963.1 409.4,966 409.9,969 410.4,972 410.8,975 411.3,977.9 411.8,980.9 412.2,983.4M416.1,1008.1 416.6,1011 416.9,1012.3M423.7,1038.7 424.2,1040.1 425.3,1042.9 426.4,1045.7 427.6,1048.4 428.8,1051.1 430.1,1053.7 431.5,1056.4 432.9,1058.9 434.5,1061.5 436,1063.9 437.7,1066.4 439.5,1068.7 441,1070.7M458.7,1089.8 459.4,1090.5 461.3,1092.8 461.5,1093M472.5,1110.3 473.7,1112.7 475,1115.4 476.3,1118.1 477.5,1120.9 478.7,1123.6 479.9,1126.4 481.1,1129.2 482.3,1132 483.5,1134.8 484.7,1137.6 485.9,1140.5 487.1,1143.3 487.3,1143.8M500.1,1167 500.2,1167.2 502.1,1169.5 502.9,1170.3M521,1184.2 522.8,1185.2 525.5,1186.5 528.2,1187.8 530.9,1189.1 533.7,1190.3 536.5,1191.5 539.3,1192.7 542.1,1193.9 544.9,1195 547.8,1196.2 550.6,1197.3 553.4,1198.5 554.5,1199M574.3,1208.2 575.3,1208.7 578,1210 578.2,1210.1M600,1221.5 601.8,1222.5 604.5,1223.9 607.1,1225.3 609.8,1226.6 612.5,1228 615.1,1229.4 617.8,1230.8 620.4,1232.2 623.1,1233.5 625.8,1234.9 628.4,1236.3 631.1,1237.6 632.5,1238.4M652.7,1248.5 655.3,1249.7 656.6,1250.4M678,1260.7 679.7,1261.4 682.4,1262.7 685.1,1264 687.8,1265.2 690.6,1266.5 693.3,1267.7 696,1269 698.8,1270.2 701.5,1271.4 704.3,1272.6 707,1273.8 709.8,1275 711.4,1275.7M734,1285.3 734.6,1285.6 737.4,1286.7 738,1287M760.6,1297 762.1,1297.7 764.8,1298.9 767.5,1300.2 770.2,1301.5 772.9,1302.9 775.6,1304.2 778.3,1305.5 781,1306.8 783.7,1308.2 786.4,1309.5 789.1,1310.8 791.8,1312.1 793.5,1312.9M817.5,1323.8 819.2,1324.5 821.5,1325.5M842.4,1333 844.5,1333.7 847.4,1334.6 850.3,1335.5 853.1,1336.4 856,1337.2 858.9,1338.1 861.8,1338.9 864.7,1339.7 867.6,1340.5 870.5,1341.3 873.4,1342 876.3,1342.8 877.5,1343.1M899.6,1348.4 899.7,1348.5 902.6,1349.2 903.8,1349.4M927.6,1354.9 929,1355.2 931.9,1355.9 934.8,1356.5 937.7,1357.2 940.7,1357.9 943.6,1358.6 946.5,1359.3 949.4,1359.9 952.3,1360.6 955.2,1361.3 958.2,1362.1 961.1,1362.8 963.2,1363.3M985.8,1369.1 987.3,1369.4 990,1370.1M1011.9,1375.2 1013.7,1375.5 1016.6,1376.1 1019.5,1376.6 1022.5,1377.2 1025.5,1377.7 1028.4,1378.2 1031.4,1378.7 1034.3,1379.1 1037.3,1379.5 1040.3,1380 1043.2,1380.4 1046.2,1380.8 1048.1,1381M1071.8,1383.5 1073.1,1383.6 1076.1,1383.9 1076.1,1383.9M1100.3,1385.7 1103,1385.9 1106,1386.1 1109,1386.3 1112,1386.5 1115,1386.7 1118,1386.9 1121,1387.1 1124,1387.2 1127,1387.4 1130,1387.6 1133,1387.8 1136,1388 1136.9,1388.1M1160.7,1389.6 1163,1389.8 1165,1389.9M1189.2,1391.9 1189.9,1392 1192.9,1392.2 1195.9,1392.5 1198.9,1392.8 1201.9,1393.1 1204.9,1393.4 1207.9,1393.8 1210.8,1394.1 1213.8,1394.4 1216.8,1394.8 1219.8,1395.1 1222.8,1395.5 1225.6,1395.8M1249.3,1398.9 1249.6,1398.9 1252.6,1399.3 1253.6,1399.4M1277.7,1402.5 1279.4,1402.8 1282.4,1403.1 1285.4,1403.5 1288.4,1403.9 1291.3,1404.2 1294.3,1404.6 1297.3,1404.9 1300.3,1405.3 1303.3,1405.6 1306.3,1405.9 1309.2,1406.2 1312.2,1406.5 1314,1406.7M1337.8,1408.7 1339.1,1408.8 1342.1,1409M1366.4,1410.4 1369.1,1410.5 1372.1,1410.7 1375.1,1410.8 1378.1,1410.9 1381.1,1411 1384.1,1411.1 1387.1,1411.2 1390.1,1411.3 1393.1,1411.4 1396.1,1411.5 1399.1,1411.6 1402.1,1411.7 1403,1411.7M1426.9,1412.2 1429.2,1412.2 1431.2,1412.3M1455.5,1412.6 1456.2,1412.6 1459.2,1412.7 1462.2,1412.7 1465.2,1412.7 1468.2,1412.8 1471.2,1412.8 1474.3,1412.9 1477.3,1412.9 1480.3,1412.9 1483.3,1413 1486.3,1413 1489.3,1413.1 1492.1,1413.1M1516,1413.5 1516.3,1413.5 1519.3,1413.5 1520.3,1413.5M1544.6,1413.9 1546.4,1413.9 1549.4,1414 1552.4,1414 1555.4,1414.1 1558.4,1414.1 1561.4,1414.2 1564.4,1414.2 1567.4,1414.3 1570.4,1414.3 1573.4,1414.4 1576.4,1414.4 1579.4,1414.4 1581.1,1414.5M1605,1414.9 1606.4,1414.9 1609.3,1414.9M1633.6,1415.4 1636.5,1415.4 1639.5,1415.5 1642.5,1415.5 1645.5,1415.6 1648.5,1415.6 1651.5,1415.7 1654.5,1415.7 1657.5,1415.8 1660.5,1415.8 1663.5,1415.9 1666.5,1415.9 1669.5,1416 1670.2,1416M1694.1,1416.4 1696.5,1416.4 1698.4,1416.5M1722.7,1416.9 1723.6,1416.9 1726.6,1416.9 1729.6,1417 1732.6,1417 1735.6,1417.1 1738.6,1417.1 1741.6,1417.2 1744.6,1417.2 1747.6,1417.3 1750.6,1417.3 1753.6,1417.4 1756.6,1417.4 1759.3,1417.4M1783.2,1417.8 1783.6,1417.8 1786.6,1417.9 1787.5,1417.9M1811.8,1418.2 1813.6,1418.3 1816.6,1418.3 1819.6,1418.4 1822.6,1418.4 1825.6,1418.4 1828.6,1418.5 1831.6,1418.5 1834.6,1418.6 1837.6,1418.6 1840.6,1418.6 1843.6,1418.7 1846.7,1418.7 1848.4,1418.7M1872.3,1419 1873.7,1419.1 1876.6,1419.1M1900.9,1419.4 1903.7,1419.4 1906.7,1419.4 1909.7,1419.5 1912.7,1419.5 1915.7,1419.5 1918.7,1419.5 1921.7,1419.6 1924.7,1419.6 1927.7,1419.6 1930.7,1419.6 1933.7,1419.7 1936.7,1419.7 1937.5,1419.7M1961.4,1419.9 1963.8,1419.9 1965.7,1419.9M1990,1420.1 1990.8,1420.1 1993.8,1420.1 1996.8,1420.1 1999.8,1420.1 2002.8,1420.1 2005.8,1420.1 2008.8,1420.1 2011.8,1420.1 2014.8,1420.2 2017.8,1420.2 2020.8,1420.2 2023.8,1420.2 2026.6,1420.2M2050.5,1420.2 2050.9,1420.2 2053.9,1420.2 2054.8,1420.2M2079.1,1420.2 2080.9,1420.2 2083.9,1420.2 2086.9,1420.2 2089.9,1420.1 2092.9,1420.1 2096,1420.1 2099,1420.1 2102,1420.1 2105,1420.1 2108,1420.1 2111,1420 2114,1420 2115.7,1420" stroke="#007f00"/>
<path id="c6min" d="M298.5,22.8 298.5,23 298.5,26 298.4,26.7M298.4,51.6 298.4,53.1 298.4,56.1 298.5,59.1 298.5,62.1 298.5,65.1 298.5,68.1 298.6,71.1 298.6,74.1 298.6,77.1 298.6,77.9M299,102.2 299,104.2 299.1,106.1M299.6,130.2 299.6,131.2 299.7,134.1M300.3,159 300.4,161.2 300.4,164.2 300.5,167.2 300.6,170.2 300.7,173.2 300.8,176.2 300.9,179.2 300.9,182.2 301,185.2 301,185.3M301.7,209.5 301.8,212.3 301.8,213.4M302.5,237.5 302.6,239.3 302.6,241.4M303.2,266.3 303.3,269.3 303.4,272.3 303.4,275.3 303.5,278.3 303.6,281.3 303.6,284.3 303.7,287.3 303.8,290.3 303.8,292.6M304.2,316.9 304.2,317.4 304.2,320.4 304.2,320.8M304.4,344.9 304.4,347.5 304.5,348.8M304.5,373.7 304.6,374.5 304.6,377.5 304.6,380.5 304.6,383.6 304.6,386.6 304.6,389.6 304.6,392.6 304.7,395.6 304.7,398.6 304.7,400M305,424.3 305,425.6 305.1,428.2M305.7,452.3 305.7,452.7 305.8,455.7 305.8,456.2M307,481.1 307.1,482.7 307.3,485.7 307.5,488.7 307.7,491.6 307.9,494.6 308.1,497.6 308.3,500.6 308.5,503.6 308.8,506.6 308.9,507.3M311.1,531.5 311.3,533.5 311.5,535.4M313.9,559.4 314,560.4 314.3,563.2M316.6,588 316.8,590.3 317.1,593.3 317.3,596.3 317.6,599.3 317.8,602.3 318,605.3 318.2,608.3 318.5,611.3 318.7,614.3M320.5,638.5 320.7,641.2 320.8,642.4M322.9,666.4 323.1,668.2 323.4,670.3M326.2,694.4 326.3,695 326.7,698 327,700.9 327.4,703.9 327.8,706.9 328.2,709.9 328.5,712.8 328.9,715.8 329.3,718.8 329.5,720.5M332.5,746.4 332.8,748.7 332.9,750.3M336.1,775.6 336.5,778.5 336.6,779.5M340.8,804.5 341,805.3 341.6,808.2 342.2,811.2 342.9,814.1 343.7,817 344.5,819.8 345.5,822.7 346.5,825.5 347.6,828.2 348.3,829.7M363.8,852.2 364.5,853 366.3,855.1M380.7,874.3 380.9,874.6 382.4,877.2 382.6,877.7M390.9,899.8 391.7,902.4 392.4,905.3 393.2,908.2 393.9,911.1 394.6,914 395.3,917 395.9,919.9 396.6,922.8 397.1,925.3M401.2,948 401.5,949.5 401.8,951.8M405.7,978.1 405.9,979.3 406.3,982M410.5,1009.6 410.9,1011.9 411.4,1014.8 411.9,1017.7 412.4,1020.7 412.9,1023.6 413.5,1026.6 414,1029.5 414.6,1032.4 415.2,1035.4 415.2,1035.5M420.2,1059.8 420.6,1062 421,1063.7M427.8,1089.4 428.5,1091.4 429.2,1093M444.3,1115.6 444.4,1115.7 446.6,1117.7 449,1119.6 451.4,1121.4 453.8,1123.3 456.2,1125.1 458.6,1127 461,1128.9 463.2,1130.9 464.6,1132.2M477.5,1152.1 477.8,1152.7 479,1155.6 479,1155.7M488.7,1180.2 489.3,1181.2 490.6,1183.6M506.6,1202.7 508.2,1204 510.5,1205.8 512.9,1207.6 515.4,1209.3 517.9,1210.9 520.4,1212.5 523.1,1214 525.7,1215.4 528.4,1216.7 528.7,1216.8M550.2,1225.3 550.8,1225.5 553.6,1226.4 553.9,1226.5M576.7,1234.7 579,1235.7 580.2,1236.2M602.2,1247.5 603.1,1248 605.7,1249.5 608.3,1251 611,1252.4 613.6,1253.9 616.3,1255.4 618.9,1256.8 621.6,1258.2 624.3,1259.5 625.3,1260M645.9,1268.7 646.4,1268.9 649.2,1269.9 649.6,1270M673.1,1277.9 674.9,1278.5 676.8,1279.2M700.2,1288.1 702.8,1289.3 705.5,1290.6 708.2,1291.9 710.9,1293.2 713.6,1294.5 716.3,1295.7 719,1297 721.7,1298.2 724.1,1299.2M746.7,1307.4 746.9,1307.5 749.7,1308.5 750.3,1308.8M772.1,1318.2 774.6,1319.2 775.7,1319.7M800.2,1329.4 802.5,1330.2 805.4,1331.2 808.2,1332.2 811,1333.1 813.9,1334.1 816.7,1335 819.6,1335.9 822.4,1336.8 825.2,1337.7M848.9,1344.5 851.2,1345.1 852.7,1345.5M875.4,1351.2 877.4,1351.6 879.2,1352.1M903,1357.3 903.8,1357.5 906.7,1358.1 909.6,1358.7 912.6,1359.3 915.5,1359.9 918.5,1360.5 921.4,1361.1 924.4,1361.7 927.3,1362.2 928.8,1362.5M953.1,1367.1 953.9,1367.3 956.8,1367.8 956.9,1367.8M982.4,1372.4 983.4,1372.6 986.2,1373.1M1009.4,1377 1010.1,1377.1 1013,1377.5 1016,1378 1019,1378.5 1021.9,1378.9 1024.9,1379.3 1027.9,1379.8 1030.8,1380.2 1033.8,1380.6 1035.4,1380.8M1058.1,1383.7 1060.6,1384 1062,1384.1M1083.1,1386.2 1084.5,1386.4 1087,1386.6M1111.8,1388.6 1114.5,1388.7 1117.5,1389 1120.5,1389.2 1123.5,1389.4 1126.5,1389.6 1129.4,1389.8 1132.4,1390 1135.4,1390.2 1138,1390.4M1162.3,1392.1 1162.4,1392.1 1165.4,1392.3 1166.2,1392.3M1190.2,1394.3 1192.4,1394.5 1194.1,1394.6M1218.8,1397.1 1219.3,1397.1 1222.3,1397.5 1225.3,1397.8 1228.3,1398.1 1231.3,1398.5 1234.3,1398.8 1237.3,1399.2 1240.2,1399.5 1243.2,1399.9 1245,1400.1M1269.1,1402.9 1270.1,1403.1 1273,1403.4M1296.9,1406 1296.9,1406 1299.9,1406.3 1300.8,1406.4M1325.6,1408.6 1326.8,1408.7 1329.8,1409 1332.8,1409.2 1335.8,1409.4 1338.8,1409.6 1341.8,1409.8 1344.8,1409.9 1347.8,1410.1 1350.8,1410.3 1351.9,1410.3M1376.1,1411.4 1377.8,1411.5 1380,1411.6M1404.1,1412.3 1404.8,1412.3 1407.9,1412.3 1408,1412.4M1432.9,1412.8 1434.9,1412.8 1437.9,1412.9 1440.9,1412.9 1443.9,1413 1446.9,1413 1449.9,1413 1453,1413.1 1456,1413.1 1459,1413.2 1459.2,1413.2M1483.5,1413.5 1486,1413.5 1487.4,1413.5M1511.5,1413.9 1513.1,1413.9 1515.4,1413.9M1540.3,1414.3 1543.1,1414.4 1546.1,1414.4 1549.1,1414.5 1552.2,1414.5 1555.2,1414.6 1558.2,1414.6 1561.2,1414.7 1564.2,1414.7 1566.6,1414.7M1590.9,1415.1 1591.2,1415.2 1594.2,1415.2 1594.8,1415.2M1618.9,1415.6 1621.3,1415.7 1622.8,1415.7M1647.7,1416.1 1648.3,1416.1 1651.3,1416.2 1654.3,1416.2 1657.3,1416.3 1660.3,1416.3 1663.3,1416.4 1666.3,1416.4 1669.3,1416.5 1672.3,1416.5 1674,1416.6M1698.3,1417 1699.4,1417 1702.2,1417M1726.3,1417.4 1726.4,1417.4 1729.4,1417.5 1730.2,1417.5M1755.1,1417.9 1756.4,1417.9 1759.4,1418 1762.4,1418 1765.4,1418.1 1768.4,1418.1 1771.5,1418.1 1774.5,1418.2 1777.5,1418.2 1780.5,1418.3 1781.4,1418.3M1805.7,1418.6 1807.5,1418.7 1809.6,1418.7M1833.7,1419 1834.5,1419 1837.5,1419.1 1837.6,1419.1M1862.5,1419.4 1864.6,1419.4 1867.6,1419.4 1870.6,1419.5 1873.6,1419.5 1876.6,1419.5 1879.6,1419.6 1882.6,1419.6 1885.6,1419.6 1888.6,1419.7 1888.8,1419.7M1913.1,1419.9 1915.6,1419.9 1917,1419.9M1941.1,1420.1 1942.7,1420.1 1945,1420.1M1969.9,1420.3 1972.7,1420.3 1975.7,1420.3 1978.7,1420.3 1981.7,1420.3 1984.7,1420.3 1987.7,1420.4 1990.7,1420.4 1993.7,1420.4 1996.2,1420.4M2020.5,1420.4 2020.8,1420.4 2023.8,1420.4 2024.4,1420.4M2048.5,1420.4 2050.8,1420.4 2052.4,1420.4M2077.3,1420.3 2077.9,1420.3 2080.9,1420.3 2083.9,1420.3 2086.9,1420.2 2089.9,1420.2 2092.9,1420.2 2095.9,1420.2 2099,1420.2 2102,1420.1 2103.6,1420.1" stroke="#00d21e"/>
<path id="c8min" d="M298.1,32.9 298.1,35.1 298.2,38.1 298.2,41.1 298.3,44.1 298.3,44.1M298.7,65.4 298.7,68 298.8,71 298.9,74 298.9,76.6M299.3,97.9 299.3,98.1 299.3,101.1 299.4,104.1 299.4,107.1 299.5,109.1M299.8,130.4 299.9,131.1 299.9,134.1 300,137.1 300,140.1 300,141.6M300.4,162.9 300.4,164.1 300.5,167.1 300.5,170.1 300.6,173.1 300.6,174.1M301,195.4 301,197.2 301.1,200.2 301.1,203.2 301.2,206.2 301.2,206.6M301.6,227.9 301.6,230.3 301.7,233.3 301.7,236.3 301.8,239.1M302.2,260.4 302.3,263.3 302.3,266.4 302.4,269.4 302.4,271.6M302.9,292.9 302.9,293.4 303,296.4 303,299.4 303.1,302.5 303.1,304.1M303.7,325.4 303.7,326.5 303.8,329.5 303.8,332.5 303.9,335.5 303.9,336.6M304.5,357.9 304.5,359.6 304.6,362.6 304.7,365.6 304.8,368.6 304.8,369.1M305.4,390.4 305.5,392.7 305.6,395.7 305.7,398.7 305.8,401.6M306.4,422.8 306.5,425.8 306.6,428.8 306.8,431.8 306.8,434M307.6,455.3 307.6,455.8 307.7,458.8 307.9,461.9 308,464.9 308,466.5M308.9,487.8 308.9,488.9 309.1,491.9 309.2,494.9 309.3,497.9 309.4,499M310.3,520.3 310.4,521.9 310.6,524.9 310.7,527.9 310.8,530.9 310.9,531.5M311.9,552.7 312.1,554.9 312.2,557.9 312.4,560.9 312.5,563.9M313.7,585.2 313.9,587.9 314.1,590.9 314.2,593.9 314.4,596.4M315.7,617.6 315.7,617.9 315.9,620.9 316.1,623.9 316.3,626.9 316.4,628.8M317.9,650 317.9,650.8 318.1,653.8 318.4,656.8 318.6,659.8 318.7,661.2M320.3,682.5 320.4,683.7 320.6,686.7 320.8,689.7 321.1,692.6 321.2,693.6M322.9,714.9 323,716.5 323.3,719.5 323.6,722.5 323.8,725.5 323.9,726M325.8,747.2 326.1,749.4 326.4,752.3 326.7,755.3 327,758.3 327,758.4M329.4,779.5 329.7,782.3 330.1,785.3 330.5,788.3 330.8,790.6M333.9,811.7 334,812.5 334.5,815.5 335,818.5 335.5,821.6 335.8,822.8M340.3,843.6 340.8,845.4 341.7,848.3 342.7,851.1 343.7,853.9 343.8,854.2M353.9,872.9 354.8,874.1 356.7,876.3 358.6,878.5 360.7,880.5 361.4,881.1M377.6,893.3 379.7,895.1 381.8,897.2 383.7,899.4 385.1,901.5M391,921.6 391.1,922.1 391.7,925.2 392.3,928.2 392.9,931.2 393.2,932.5M397.6,953.7 397.8,954.6 398.4,957.6 399,960.5 399.6,963.4 399.8,964.7M403.6,987 403.7,987.1 404.1,990.1 404.6,993 405.1,996 405.4,998M408.7,1019.5 408.8,1019.8 409.2,1022.8 409.7,1025.8 410.2,1028.7 410.4,1030.5M414,1052 414.1,1052.4 414.6,1055.4 415.2,1058.3 415.7,1061.2 416.1,1063M420.6,1085.7 421,1087.7 421.7,1090.6 422.3,1093.6 422.9,1096.5 423,1096.7M428.7,1118.8 429.2,1120 430.3,1122.7 431.6,1125.3 433,1127.9 433.5,1128.8M448.8,1145.1 449.1,1145.3 451.5,1147.2 453.9,1149.2 456.3,1151.1 457.5,1152.1M472.7,1167.6 473.2,1168.2 474.7,1170.7 476.2,1173.2 477.6,1175.9 478.3,1177.3M487.5,1197.3 487.8,1197.8 489.2,1200.5 490.8,1203.1 492.3,1205.7 493.2,1207M507.6,1224.1 509.8,1226 512.1,1227.8 514.5,1229.5 516.5,1230.8M535.4,1239 536.1,1239.2 539,1240.1 541.9,1241 544.8,1241.8 546.1,1242.2M566.8,1249.9 567,1250 569.6,1251.3 572.3,1252.7 574.9,1254.1 576.7,1255M596.7,1264.3 599.1,1265.5 601.7,1266.9 604.3,1268.3 606.6,1269.4M626.9,1276.7 629.3,1277.5 632.1,1278.5 634.9,1279.6 637.4,1280.6M655.1,1288.1 656.9,1288.9 659.7,1290 662.5,1291.1 665.3,1292.1 665.5,1292.2M686.4,1298.3 688.1,1298.8 690.9,1299.6 693.8,1300.5 696.7,1301.3 697.1,1301.5M716.9,1308.7 719,1309.6 721.8,1310.8 724.5,1312 727.2,1313.2M747.3,1320 749.7,1320.9 752.5,1321.9 755.3,1323 757.7,1324M777.2,1331.6 777.6,1331.7 780.4,1332.8 783.2,1333.8 786,1334.8 787.7,1335.4M807.9,1341.8 808.8,1342.1 811.7,1342.9 814.6,1343.7 817.5,1344.5 818.6,1344.8M838.7,1349.8 840.8,1350.3 843.7,1351 846.6,1351.6 849.6,1352.3 849.7,1352.3M870.8,1356.7 873.1,1357.2 876.1,1357.8 879,1358.3 881.8,1358.9M903.2,1362.9 905.6,1363.4 908.5,1363.9 911.5,1364.4 914.2,1364.9M934.4,1368.4 935.2,1368.5 938.1,1369 941.1,1369.5 944.1,1369.9 945.5,1370.2M965.8,1373.3 967.8,1373.6 970.8,1374.1 973.7,1374.5 976.7,1374.9 976.8,1374.9M997.3,1377.8 997.5,1377.8 1000.5,1378.2 1003.5,1378.6 1006.5,1379 1008.4,1379.3M1029.1,1381.8 1030.3,1382 1033.3,1382.3 1036.3,1382.7 1039.3,1383 1040.2,1383.1M1061.2,1385.5 1063.1,1385.7 1066.1,1386 1069.1,1386.3 1072.1,1386.6 1072.3,1386.6M1093.1,1388.7 1096,1389 1099,1389.3 1102,1389.5 1104.3,1389.7M1125.5,1391.7 1126,1391.7 1129,1392 1131.9,1392.2 1134.9,1392.5 1136.7,1392.6M1157.9,1394.4 1158.9,1394.5 1161.9,1394.8 1164.9,1395 1167.9,1395.3 1169,1395.4M1190.3,1397.1 1191.9,1397.2 1194.9,1397.5 1197.9,1397.7 1200.9,1398 1201.4,1398M1222.7,1399.7 1224.8,1399.9 1227.8,1400.2 1230.8,1400.4 1233.8,1400.6 1233.8,1400.6M1255.1,1402.3 1257.8,1402.6 1260.8,1402.8 1263.8,1403 1266.2,1403.2M1287.5,1404.9 1287.7,1404.9 1290.7,1405.1 1293.7,1405.3 1296.7,1405.6 1298.6,1405.7M1319.9,1407.2 1320.7,1407.3 1323.7,1407.5 1326.7,1407.7 1329.7,1407.9 1331,1408M1352.3,1409.4 1353.7,1409.5 1356.7,1409.7 1359.7,1409.9 1362.7,1410.1 1363.5,1410.1M1384.7,1411.3 1386.7,1411.4 1389.6,1411.6 1392.6,1411.7 1395.6,1411.9 1395.9,1411.9M1417.2,1412.9 1419.7,1413 1422.7,1413.1 1425.7,1413.3 1428.4,1413.4M1449.7,1414.1 1449.7,1414.1 1452.7,1414.2 1455.7,1414.3 1458.7,1414.4 1460.9,1414.4M1482.2,1414.9 1482.7,1414.9 1485.7,1415 1488.7,1415 1491.8,1415 1493.4,1415.1M1514.7,1415.3 1515.8,1415.3 1518.8,1415.3 1521.8,1415.3 1524.8,1415.4 1525.9,1415.4M1547.2,1415.5 1548.9,1415.5 1551.9,1415.5 1554.9,1415.5 1557.9,1415.5 1558.4,1415.5M1579.7,1415.6 1582,1415.6 1585,1415.6 1588,1415.6 1590.9,1415.6M1612.2,1415.7 1615.1,1415.7 1618.1,1415.7 1621.1,1415.8 1623.4,1415.8M1644.7,1416 1645.2,1416 1648.2,1416 1651.2,1416.1 1654.2,1416.1 1655.9,1416.1M1677.2,1416.4 1678.2,1416.4 1681.2,1416.5 1684.2,1416.5 1687.2,1416.5 1688.4,1416.6M1709.7,1416.9 1711.3,1416.9 1714.3,1417 1717.3,1417 1720.3,1417.1 1720.9,1417.1M1742.2,1417.5 1744.3,1417.5 1747.3,1417.6 1750.3,1417.6 1753.3,1417.7 1753.4,1417.7M1774.6,1418.1 1777.4,1418.1 1780.4,1418.2 1783.4,1418.2 1785.8,1418.3M1807.1,1418.7 1807.4,1418.7 1810.4,1418.7 1813.4,1418.8 1816.4,1418.8 1818.3,1418.9M1839.6,1419.3 1840.4,1419.3 1843.4,1419.3 1846.4,1419.4 1849.4,1419.4 1850.8,1419.5M1872.1,1419.8 1873.5,1419.8 1876.5,1419.9 1879.5,1419.9 1882.5,1420 1883.3,1420M1904.6,1420.3 1906.5,1420.3 1909.5,1420.3 1912.5,1420.4 1915.5,1420.4 1915.8,1420.4M1937.1,1420.6 1939.6,1420.7 1942.6,1420.7 1945.6,1420.7 1948.3,1420.7M1969.6,1420.9 1972.6,1420.9 1975.6,1420.9 1978.6,1420.9 1980.8,1420.9M2002.1,1421 2002.7,1421 2005.7,1421 2008.7,1421 2011.7,1421 2013.3,1420.9M2034.6,1420.9 2035.7,1420.8 2038.8,1420.8 2041.8,1420.8 2044.8,1420.8 2045.8,1420.8M2067.1,1420.5 2068.8,1420.5 2071.8,1420.5 2074.8,1420.4 2077.9,1420.4 2078.3,1420.4M2099.6,1420 2101.9,1419.9 2104.9,1419.9 2108,1419.8 2110.8,1419.7" stroke="#ff9614"/>
<path id="c10min" d="M297.8,27.8h.01M298,41.9h.01M298.2,56.1h.01M298.3,70.2h.01M298.5,84.4h.01M298.7,98.5h.01M298.9,112.7h.01M299.1,126.8h.01M299.3,141h.01M299.5,155.1h.01M299.7,169.3h.01M300,183.4h.01M300.2,197.6h.01M300.5,211.7h.01M300.7,225.9h.01M301,240h.01M301.2,254.2h.01M301.5,268.3h.01M301.8,282.5h.01M302.2,296.6h.01M302.5,310.7h.01M302.9,324.9h.01M303.2,339h.01M303.6,353.2h.01M304,367.3h.01M304.5,381.5h.01M304.9,395.6h.01M305.4,409.8h.01M305.9,423.9h.01M306.4,438h.01M306.9,452.2h.01M307.5,466.3h.01M308.1,480.5h.01M308.7,494.6h.01M309.4,508.7h.01M310.1,522.9h.01M310.8,537h.01M311.5,551.1 311.5,551.1 311.5,551.1M312.3,565.2h.01M313.1,579.4h.01M313.9,593.5h.01M314.8,607.6h.01M315.7,621.7h.01M316.7,635.9h.01M317.6,650h.01M318.7,664.2h.01M319.8,680h.01M321,694.2h.01M322.1,708.3h.01M323.3,722.5h.01M324.6,737.5h.01M325.9,751.7h.01M327.3,766.8h.01M328.8,780.9h.01M330.5,795.1h.01M332.8,810.1h.01M335.4,824.3h.01M338.8,839.1h.01M342.7,852.7h.01M347.3,865.9h.01M353.4,879.8h.01M362.2,892.7h.01M372.4,903h.01M380.9,913h.01M387.1,924.8h.01M391.5,940h.01M394,954.2h.01M395.9,968.3h.01M398,982.5h.01M400.4,996.8h.01M403,1011.3h.01M405.6,1025.8h.01M408.1,1039.9h.01M410.5,1054.6h.01M412.7,1068.7h.01M414.8,1083.3h.01M416.9,1098.1h.01M419.2,1112.1h.01M422.7,1126.5h.01M427.7,1140.4h.01M434.6,1152.9h.01M444.5,1164.5h.01M455.7,1173.4h.01M466.9,1182.7h.01M475.2,1193h.01M482.4,1205.4h.01M489.2,1218.5h.01M497.1,1231.3h.01M507,1242.4h.01M518.6,1250.7h.01M531.8,1256.4h.01M545.5,1260.9h.01M558.1,1265.5h.01M570.8,1270.8h.01M584.8,1277h.01M597.1,1282.7h.01M609.8,1288.4h.01M622.7,1294h.01M636.8,1299.3h.01M650.8,1303.9h.01M664.4,1307.9h.01M678,1311.8h.01M691.7,1316.1h.01M705.3,1320.8h.01M719,1326.1h.01M732.1,1331.2h.01M744.9,1336.1h.01M758,1340.8h.01M770.6,1345h.01M783.6,1349h.01M797,1352.9h.01M810.8,1356.5h.01M825.1,1359.9h.01M838.9,1363h.01M852.8,1365.7h.01M866.9,1368.2h.01M880.8,1370.4h.01M894.5,1372.5h.01M908.5,1374.4h.01M922.4,1376.2h.01M935.8,1377.9h.01M949.9,1379.6h.01M964.3,1381.4h.01M978.3,1383.3h.01M992.6,1385.1h.01M1006.3,1386.9h.01M1020.5,1388.6h.01M1034.5,1390.2h.01M1048.3,1391.6h.01M1062.4,1392.8h.01M1076.2,1393.8h.01M1090.5,1394.6h.01M1104.5,1395.2h.01M1118.3,1395.8h.01M1133,1396.3h.01M1147,1396.9h.01M1161.2,1397.6h.01M1175,1398.4h.01M1189.2,1399.5h.01M1203.3,1400.7h.01M1216.7,1402h.01M1230.4,1403.4h.01M1245,1404.9h.01M1259.1,1406.3h.01M1273.3,1407.7h.01M1287.5,1408.9h.01M1300.8,1409.9h.01M1315,1410.9h.01M1329.7,1411.7h.01M1343.7,1412.4h.01M1357.8,1413h.01M1372,1413.5h.01M1386.2,1413.9h.01M1400,1414.3h.01M1414.2,1414.7h.01M1428.3,1415.1h.01M1442.5,1415.5h.01M1456.7,1415.8h.01M1471,1416.2h.01M1485.3,1416.5h.01M1499.7,1416.8h.01M1514,1417.1h.01M1528.3,1417.3h.01M1542.7,1417.6h.01M1557,1417.8h.01M1571.3,1418.1h.01M1585.6,1418.3h.01M1600,1418.5h.01M1614.6,1418.7h.01M1629.2,1418.9h.01M1643.8,1419.1h.01M1658.4,1419.3h.01M1673,1419.4h.01M1687.6,1419.6h.01M1702.2,1419.7h.01M1716.8,1419.8h.01M1731.4,1420h.01M1746,1420.1h.01M1760.6,1420.2h.01M1775.2,1420.3h.01M1789.8,1420.4h.01M1804.4,1420.5h.01M1819,1420.5h.01M1833.3,1420.6h.01M1847.7,1420.7h.01M1862,1420.8h.01M1876.3,1420.8h.01M1890.7,1420.9h.01M1905,1420.9h.01M1919.3,1421h.01M1933.7,1421h.01M1948,1421.1h.01M1962.3,1421.1h.01M1976.7,1421.2h.01M1991,1421.2h.01M2005.3,1421.3h.01M2019.7,1421.4h.01M2034,1421.4h.01M2048.3,1421.5h.01M2062.7,1421.5h.01M2077,1421.6h.01M2091.3,1421.6h.01M2105.7,1421.7h.01M2120,1421.8h.01" stroke="#ff1e50"/>
</g>
<line x1="384.6" y1="153.8" x2="384.6" y2="436.8" stroke="#ff0000" stroke-width="2.9"/>
<polygon points="376.0,431.8 393.20000000000005,431.8 385.3,462.40000000000003 383.90000000000003,462.40000000000003" fill="#ff0000"/>
<line x1="618.2" y1="793" x2="618.2" y2="1075.5" stroke="#ff0000" stroke-width="2.9"/>
<polygon points="609.6,1070.5 626.8000000000001,1070.5 618.9000000000001,1101.1 617.5,1101.1" fill="#ff0000"/>
<line x1="959.2" y1="886.2" x2="959.2" y2="1168.3" stroke="#ff0000" stroke-width="2.9"/>
<polygon points="950.6,1163.3 967.8000000000001,1163.3 959.9000000000001,1193.8999999999999 958.5,1193.8999999999999" fill="#ff0000"/>
<line x1="1150.6" y1="533.2" x2="1150.6" y2="956.7" stroke="#ff0000" stroke-width="2.9"/>
<polygon points="1142.0,951.7 1159.1999999999998,951.7 1151.3,982.3000000000001 1149.8999999999999,982.3000000000001" fill="#ff0000"/>
<text transform="translate(146.47,1444.70) scale(0.951,1)" font-size="81.8" xml:space="preserve">0.0</text>
<text transform="translate(148.03,1216.38) scale(0.951,1)" font-size="81.8" xml:space="preserve">0.2</text>
<text transform="translate(144.92,988.07) scale(0.951,1)" font-size="81.8" xml:space="preserve">0.4</text>
<text transform="translate(145.69,759.75) scale(0.951,1)" font-size="81.8" xml:space="preserve">0.6</text>
<text transform="translate(146.47,531.44) scale(0.951,1)" font-size="81.8" xml:space="preserve">0.8</text>
<text transform="translate(146.47,303.12) scale(0.951,1)" font-size="81.8" xml:space="preserve">1.0</text>
<text transform="translate(148.03,74.80) scale(0.951,1)" font-size="81.8" xml:space="preserve">1.2</text>
<text transform="translate(238.06,1521.30) scale(0.96,1)" font-size="82" xml:space="preserve">200</text>
<text transform="translate(539.17,1521.30) scale(0.96,1)" font-size="82" xml:space="preserve">300</text>
<text transform="translate(841.85,1521.30) scale(0.96,1)" font-size="82" xml:space="preserve">400</text>
<text transform="translate(1141.77,1521.30) scale(0.96,1)" font-size="82" xml:space="preserve">500</text>
<text transform="translate(1444.06,1521.30) scale(0.96,1)" font-size="82" xml:space="preserve">600</text>
<text transform="translate(1744.38,1521.30) scale(0.96,1)" font-size="82" xml:space="preserve">700</text>
<text transform="translate(2047.06,1521.30) scale(0.96,1)" font-size="82" xml:space="preserve">800</text>
<text transform="translate(834.00,1624.50) scale(0.959,1)" font-size="95.6" xml:space="preserve">Wavelength (nm)</text>
<text transform="translate(91.00,962.95) rotate(-90) scale(0.985,1)" font-size="96" xml:space="preserve">Abs (a.u.)</text>
<text transform="translate(330.01,131.90) scale(0.942,1)" font-size="72.8" xml:space="preserve">230 nm</text>
<text transform="translate(546.57,784.20) scale(0.942,1)" font-size="72.8" xml:space="preserve">310 nm</text>
<text transform="translate(888.63,877.00) scale(0.942,1)" font-size="72.8" xml:space="preserve">430 nm</text>
<text transform="translate(1025.03,516.70) scale(0.942,1)" font-size="72.8" xml:space="preserve">484 nm</text>
<line x1="1482.5" y1="287.9" x2="1664.3" y2="287.9" stroke="#0568ae" stroke-width="10" stroke-linecap="round"/>
<text transform="translate(1685.14,316.80) scale(0.965,1)" font-size="84.2" xml:space="preserve">0min</text>
<line x1="1482.5" y1="391.3" x2="1664.3" y2="391.3" stroke="#0080ff" stroke-width="10" stroke-linecap="round" stroke-dasharray="30 40.6"/>
<text transform="translate(1685.14,419.47) scale(0.965,1)" font-size="84.2" xml:space="preserve">1min</text>
<line x1="1482.5" y1="493.4" x2="1664.3" y2="493.4" stroke="#b13bff" stroke-width="10" stroke-linecap="round" stroke-dasharray="4.3 38.1"/>
<text transform="translate(1685.14,522.14) scale(0.965,1)" font-size="84.2" xml:space="preserve">2min</text>
<line x1="1482.5" y1="596.5" x2="1664.3" y2="596.5" stroke="#007f00" stroke-width="10" stroke-linecap="round" stroke-dasharray="36.6 23.9 4.3 24.3"/>
<text transform="translate(1685.14,624.81) scale(0.965,1)" font-size="84.2" xml:space="preserve">4min</text>
<line x1="1482.5" y1="698.9" x2="1664.3" y2="698.9" stroke="#00d21e" stroke-width="10" stroke-linecap="round" stroke-dasharray="26.3 24.3 3.9 24.1 3.9 24.9"/>
<text transform="translate(1685.14,727.48) scale(0.965,1)" font-size="84.2" xml:space="preserve">6min</text>
<line x1="1482.5" y1="801.8" x2="1664.3" y2="801.8" stroke="#ff9614" stroke-width="10" stroke-linecap="round" stroke-dasharray="11.2 21.3"/>
<text transform="translate(1685.14,830.15) scale(0.965,1)" font-size="84.2" xml:space="preserve">8min</text>
<line x1="1482.5" y1="904.7" x2="1664.3" y2="904.7" stroke="#ff1e50" stroke-width="10" stroke-linecap="round" stroke-dasharray="0.01 14.15"/>
<text transform="translate(1685.82,932.82) scale(0.965,1)" font-size="84.2" xml:space="preserve">10min</text>
</svg></body></html>
